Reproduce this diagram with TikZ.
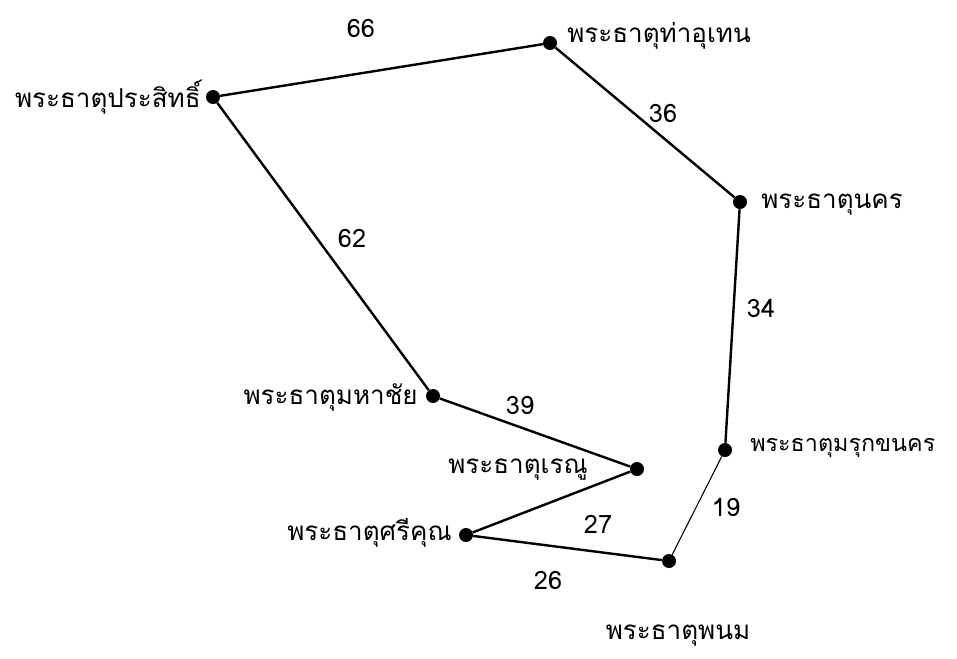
\documentclass[tikz,border=0pt]{standalone}
\usepackage{fontspec}
\newfontfamily\thaifont[Script=Thai]{Loma}
\usetikzlibrary{positioning}
\tikzset{
	v/.style={circle,fill=black,inner sep=0pt,minimum size=10.5pt},
	edge/.style={draw=black,line width=1.8pt},
	thinedge/.style={draw=black,line width=0.8pt},
	place/.style={font=\thaifont\fontsize{19.5}{23}\selectfont,inner sep=0pt},
	dist/.style={font=\thaifont\fontsize{19}{22}\selectfont,inner sep=0pt},
}
\begin{document}
\begin{tikzpicture}[x=0.75pt,y=-0.75pt]
	\useasboundingbox (0,0) rectangle (957,658);
	\node[v] (prasit) at (213,97) {};
	\node[v] (uthen) at (550,43) {};
	\node[v] (nakhon) at (740,202) {};
	\node[v] (mukda) at (725,450) {};
	\node[v] (phanom) at (669,561) {};
	\node[v] (sikhun) at (466,535) {};
	\node[v] (renu) at (637,469) {};
	\node[v] (mahachai) at (433,396) {};
	\node[place,anchor=east] (tprasit) at (201,97) {พระธาตุประสิทธิ์};
	\node[place,anchor=west] (tuthen) at (567,36) {พระธาตุท่าอุเทน};
	\node[place,anchor=west] (tnakhon) at (761,205) {พระธาตุนคร};
	\node[place,anchor=east] (tmahachai) at (418,397) {พระธาตุมหาชัย};
	\node[place] (trenu) at (518,470) {พระธาตุเรณู};
	\node[place,anchor=east] (tsikhun) at (452,533) {พระธาตุศรีคุณ};
	\node[place,anchor=west,font=\thaifont\fontsize{17.5}{21}\selectfont] (tmukda) at (750,448) {พระธาตุมรุกขนคร};
	\node[place] (tphanom) at (678,636) {พระธาตุพนม};
	\node[dist] (d66) at (361,28) {66};
	\node[dist] (d36) at (663,113) {36};
	\node[dist] (d62) at (352,238) {62};
	\node[dist] (d34) at (761,308) {34};
	\node[dist] (d39) at (520,405) {39};
	\node[dist] (d27) at (598,524) {27};
	\node[dist] (d19) at (726,507) {19};
	\node[dist] (d26) at (548,580) {26};
	\draw[edge] (prasit)--(uthen);
	\draw[edge] (uthen)--(nakhon);
	\draw[edge] (nakhon)--(mukda);
	\draw[thinedge] (mukda)--(phanom);
	\draw[edge] (phanom)--(sikhun);
	\draw[edge] (sikhun)--(renu);
	\draw[edge] (renu)--(mahachai);
	\draw[edge] (mahachai)--(prasit);
\end{tikzpicture}
\end{document}
